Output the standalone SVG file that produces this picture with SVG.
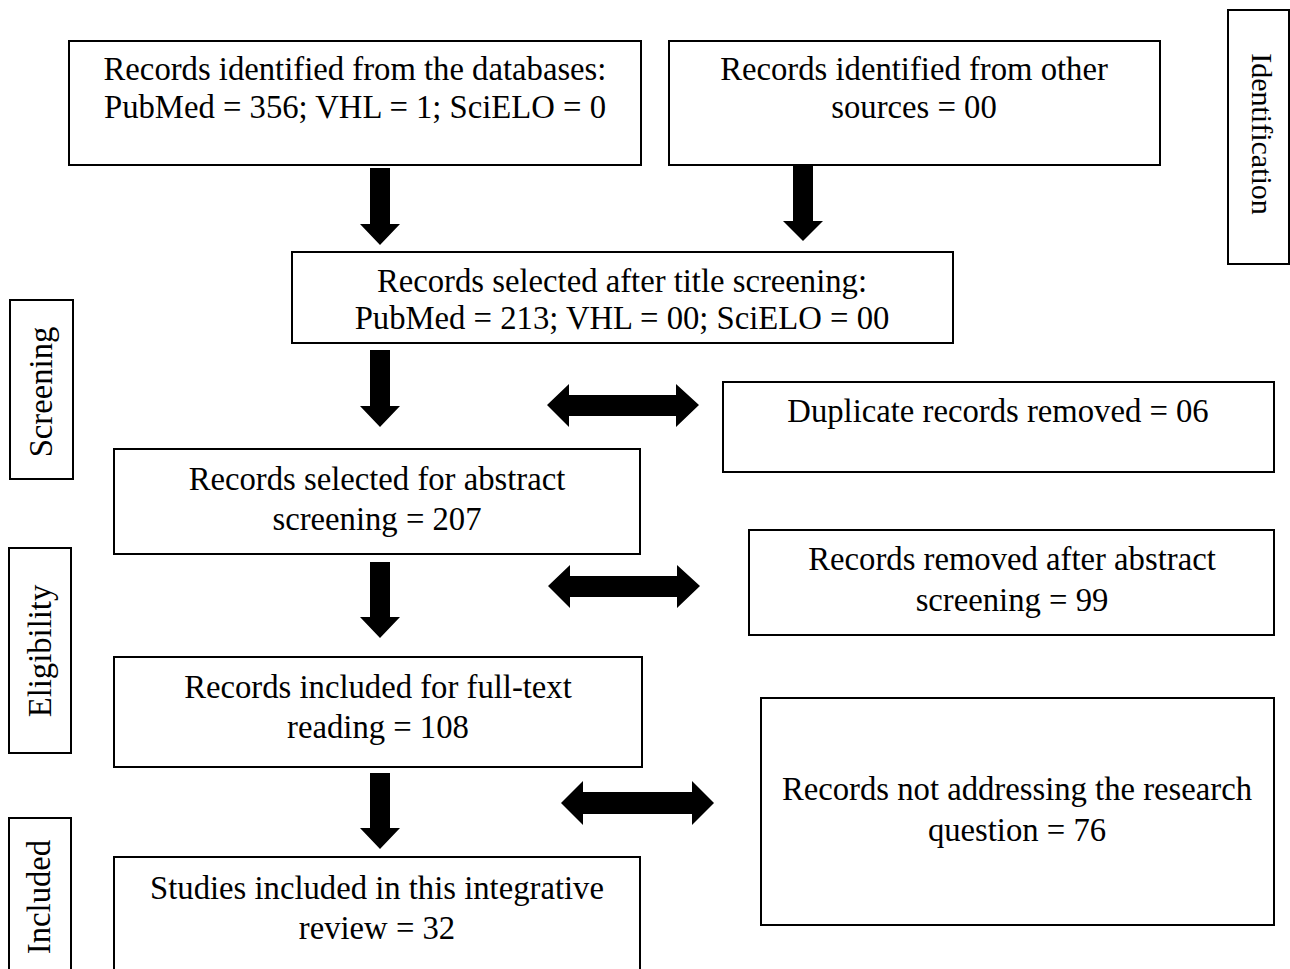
<svg xmlns="http://www.w3.org/2000/svg" width="1290" height="969" viewBox="0 0 1290 969">
<style>
.b{fill:#fff;stroke:#000;stroke-width:2}
.t{font-family:"Liberation Serif","Times New Roman",serif;font-size:32.7px;fill:#000;text-anchor:middle}
.a{fill:#000}
</style>
<rect width="1290" height="969" fill="#fff"/>
<g id="n1"><rect class="b" x="69" y="41" width="572" height="124"/><text class="t" x="355" y="80">Records identified from the databases:</text><text class="t" x="355" y="118">PubMed = 356; VHL = 1; SciELO = 0</text></g>
<g id="n2"><rect class="b" x="669" y="41" width="491" height="124"/><text class="t" x="914" y="80">Records identified from other</text><text class="t" x="914" y="118">sources = 00</text></g>
<g id="lab-id"><rect class="b" x="1228" y="10" width="61" height="254"/><text class="t" style="font-size:30px" transform="translate(1252,134) rotate(90)">Identification</text></g>
<g id="n3"><rect class="b" x="292" y="252" width="661" height="91"/><text class="t" x="622" y="292">Records selected after title screening:</text><text class="t" x="622" y="329">PubMed = 213; VHL = 00; SciELO = 00</text></g>
<g id="lab-scr"><rect class="b" x="10" y="300" width="63" height="179"/><text class="t" transform="translate(52,392) rotate(-90)">Screening</text></g>
<g id="n4"><rect class="b" x="723" y="382" width="551" height="90"/><text class="t" x="998" y="422">Duplicate records removed = 06</text></g>
<g id="n5"><rect class="b" x="114" y="449" width="526" height="105"/><text class="t" x="377" y="490">Records selected for abstract</text><text class="t" x="377" y="530">screening = 207</text></g>
<g id="n6"><rect class="b" x="749" y="530" width="525" height="105"/><text class="t" x="1012" y="570">Records removed after abstract</text><text class="t" x="1012" y="611">screening = 99</text></g>
<g id="lab-eli"><rect class="b" x="9" y="548" width="62" height="205"/><text class="t" transform="translate(51,651) rotate(-90)">Eligibility</text></g>
<g id="n7"><rect class="b" x="114" y="657" width="528" height="110"/><text class="t" x="378" y="698">Records included for full-text</text><text class="t" x="378" y="738">reading = 108</text></g>
<g id="n8"><rect class="b" x="761" y="698" width="513" height="227"/><text class="t" x="1017" y="800">Records not addressing the research</text><text class="t" x="1017" y="841">question = 76</text></g>
<g id="lab-inc"><rect class="b" x="9" y="818" width="62" height="160"/><text class="t" transform="translate(50,897) rotate(-90)">Included</text></g>
<g id="n9"><rect class="b" x="114" y="857" width="526" height="120"/><text class="t" x="377" y="899">Studies included in this integrative</text><text class="t" x="377" y="939">review = 32</text></g>
<g id="connectors">
<polygon class="a" points="370,168 390,168 390,224 400,224 380,245 360,224 370,224"/>
<polygon class="a" points="793,164 813,164 813,221 823,221 803,241 783,221 793,221"/>
<polygon class="a" points="370,350 390,350 390,406 400,406 380,427 360,406 370,406"/>
<polygon class="a" points="370,562 390,562 390,617 400,617 380,638 360,617 370,617"/>
<polygon class="a" points="370,773 390,773 390,828 400,828 380,849 360,828 370,828"/>
<polygon class="a" points="547,405 569,384 569,395 676,395 676,384 699,405 676,427 676,416 569,416 569,427"/>
<polygon class="a" points="548,586 570,565 570,576 677,576 677,565 700,586 677,608 677,597 570,597 570,608"/>
<polygon class="a" points="561,803 583,781 583,792 692,792 692,781 714,803 692,825 692,814 583,814 583,825"/>
</g>
</svg>
